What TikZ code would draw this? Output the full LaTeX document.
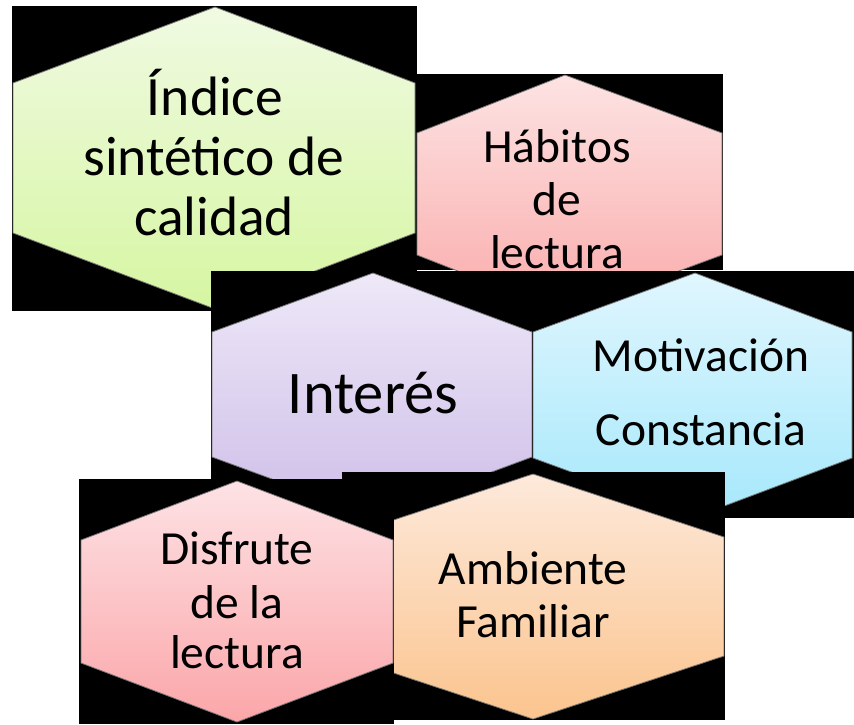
\documentclass[tikz,border=0pt]{standalone}
\usepackage{fontspec}
\setmainfont{Carlito}
\definecolor{gTop}{HTML}{F0FAE2}\definecolor{gBot}{HTML}{D6F6A2}
\definecolor{pTop}{HTML}{FDE3E3}\definecolor{pBot}{HTML}{FAABAB}
\definecolor{lTop}{HTML}{EEE8F8}\definecolor{lBot}{HTML}{CEBEE8}
\definecolor{cTop}{HTML}{E0F6FE}\definecolor{cBot}{HTML}{A6E8FB}
\definecolor{dTop}{HTML}{FDE2E5}\definecolor{dBot}{HTML}{FBA6A9}
\definecolor{aTop}{HTML}{FDE9DB}\definecolor{aBot}{HTML}{FBC48E}
\begin{document}
\begin{tikzpicture}[x=1pt,y=-1pt,
  bgbox/.style={fill=black},
  hexa/.style={draw=black!55, line width=0.8pt},
  lbl/.style={anchor=base, inner sep=0pt, text=black},
  big/.style={font=\fontsize{55.5}{60}\selectfont},
  mid/.style={font=\fontsize{47.5}{52}\selectfont},
  huge/.style={font=\fontsize{60.5}{66}\selectfont}]
\fill[white] (0,0) rectangle (854,724);
\useasboundingbox (0,0) rectangle (854,724);
% 1 Indice
\fill[bgbox] (12,6) rectangle (417,311);
\path[hexa, top color=gTop, bottom color=gBot] (215,7) -- (415,83) -- (415,233) -- (215,309) -- (13,233) -- (13,83) -- cycle;
\node[lbl,big] (i1) at (215,115) {Índice};
\node[lbl,big] (i2) at (214,175) {sintético de};
\node[lbl,big] (i3) at (214,235) {calidad};
% 2 Habitos
\fill[bgbox] (417,74) rectangle (723,270);
\path[hexa, top color=pTop, bottom color=pBot] (565,75) -- (722,133) -- (722,255) -- (565,313) -- (417,255) -- (417,133) -- cycle;
\node[lbl,mid] (h1) at (557,162) {Hábitos};
\node[lbl,mid] (h2) at (557,215) {de};
\node[lbl,mid] (h3) at (557,268) {lectura};
% 3 Interes
\fill[bgbox] (211,271) rectangle (532,479);
\path[hexa, top color=lTop, bottom color=lBot] (373,273) -- (532,332) -- (532,457) -- (373,516) -- (212,457) -- (212,332) -- cycle;
\node[lbl,huge] (t1) at (373,413) {Interés};
% 4 Motivacion
\fill[bgbox] (532,271) rectangle (854,518);
\path[hexa, top color=cTop, bottom color=cBot] (695,273) -- (852,332) -- (852,458) -- (695,517) -- (533,458) -- (533,332) -- cycle;
\node[lbl,mid] (m1) at (701,371) {Motivación};
\node[lbl,mid] (m2) at (701,445) {Constancia};
% 6 Ambiente
\fill[bgbox] (342,472) rectangle (725,720);
\path[hexa, top color=aTop, bottom color=aBot] (533,474) -- (724,537) -- (724,656) -- (533,719) -- (342,656) -- (342,537) -- cycle;
\node[lbl,mid] (a1) at (533,584) {Ambiente};
\node[lbl,mid] (a2) at (533,637) {Familiar};
% 5 Disfrute
\fill[bgbox] (79,479) rectangle (394,724);
\path[hexa, top color=dTop, bottom color=dBot] (237,481) -- (393,540) -- (393,663) -- (237,722) -- (81,663) -- (81,540) -- cycle;
\node[lbl,mid] (d1) at (237,564) {Disfrute};
\node[lbl,mid] (d2) at (237,618) {de la};
\node[lbl,mid] (d3) at (237,668) {lectura};
\end{tikzpicture}
\end{document}
